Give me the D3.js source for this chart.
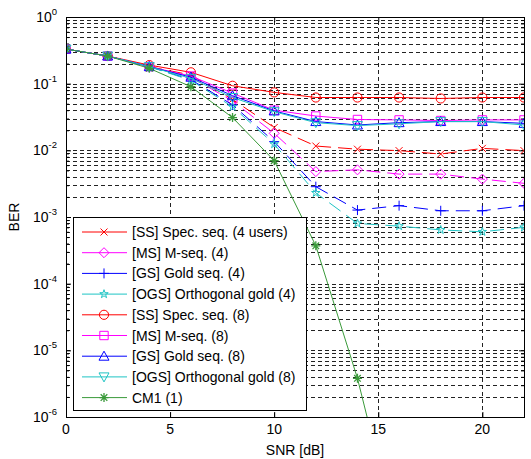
<!DOCTYPE html>
<html>
<head>
<meta charset="utf-8">
<script src="https://cdn.jsdelivr.net/npm/d3@7"></script>
<style>
  body { margin: 0; background: #fff; }
  text { font-family: "Liberation Sans", Arial, sans-serif; fill: #000; }
</style>
</head>
<body>
<div id="container"></div>
<script>
// DATA
const snr = [0, 2, 4, 6, 8, 10, 12, 14, 16, 18, 20, 22];
const snrCM1 = [0, 2, 4, 6, 8, 10, 12, 14, 16];

const berSS4 = [0.33, 0.26, 0.18, 0.135, 0.058, 0.022, 0.0116, 0.0104, 0.0099, 0.0088, 0.0107, 0.0099];
const berMS4 = [0.33, 0.26, 0.18, 0.125, 0.055, 0.018, 0.0048, 0.0051, 0.0044, 0.0044, 0.0037, 0.0032];
const berGS4 = [0.33, 0.26, 0.18, 0.115, 0.048, 0.0135, 0.00285, 0.00127, 0.00148, 0.00124, 0.00124, 0.00148];
const berOGS4 = [0.33, 0.26, 0.18, 0.112, 0.045, 0.0124, 0.0023, 0.0008, 0.00073, 0.00064, 0.0006, 0.0007];
const berSS8 = [0.33, 0.26, 0.19, 0.148, 0.093, 0.074, 0.062, 0.062, 0.062, 0.060, 0.062, 0.062];
const berMS8 = [0.33, 0.26, 0.18, 0.13, 0.072, 0.040, 0.0327, 0.029, 0.0286, 0.028, 0.0286, 0.0286];
const berGS8 = [0.33, 0.26, 0.18, 0.125, 0.066, 0.039, 0.027, 0.024, 0.026, 0.027, 0.027, 0.0254];
const berOGS8 = [0.33, 0.26, 0.18, 0.12, 0.062, 0.038, 0.026, 0.0235, 0.025, 0.027, 0.027, 0.024];
const berCM1 = [0.33, 0.26, 0.17, 0.09, 0.031, 0.007, 0.00037, 0.0000038, 0.000000012];

const legendLabels = [
  "[SS] Spec. seq. (4 users)", "[MS] M-seq. (4)", "[GS] Gold seq. (4)",
  "[OGS] Orthogonal gold (4)", "[SS] Spec. seq. (8)", "[MS] M-seq. (8)",
  "[GS] Gold seq. (8)", "[OGS] Orthogonal gold (8)", "CM1 (1)"
];
const xTicks = [0, 5, 10, 15, 20];
const yExponents = [0, -1, -2, -3, -4, -5, -6];

// series styles
const red = "#ff0000", magenta = "#ff00ff", blue = "#0000ff", cyan = "#1ec4c4", green = "#3a9a3a";
const series = [
  { x: snr, y: berSS4, color: red, marker: "x", dash: "14,7" },
  { x: snr, y: berMS4, color: magenta, marker: "diamond", dash: "14,7" },
  { x: snr, y: berGS4, color: blue, marker: "plus", dash: "14,7" },
  { x: snr, y: berOGS4, color: cyan, marker: "pentagram", dash: "14,7" },
  { x: snr, y: berSS8, color: red, marker: "circle", dash: null },
  { x: snr, y: berMS8, color: magenta, marker: "square", dash: null },
  { x: snr, y: berGS8, color: blue, marker: "triangle", dash: null },
  { x: snr, y: berOGS8, color: cyan, marker: "triangleDown", dash: null },
  { x: snrCM1, y: berCM1, color: green, marker: "star", dash: null }
];

// CONSTANTS
const width = 531, height = 459;
const margin = { top: 17, bottom: 42, left: 66, right: 7 };

const svg = d3.select("#container").append("svg")
  .attr("width", width).attr("height", height);

const xScale = d3.scaleLinear().domain([0, 22]).range([margin.left, width - margin.right]);
const yScale = d3.scaleLog().domain([1e-6, 1]).range([height - margin.bottom, margin.top]);

const x0 = xScale.range()[0], x1 = xScale.range()[1];
const y0 = yScale.range()[0], y1 = yScale.range()[1];

// GRID
const grid = svg.append("g").attr("stroke", "#222").attr("stroke-dasharray", "4,3").attr("stroke-width", 1);
grid.selectAll(".gy").data(yScale.ticks()).join("line")
  .attr("x1", x0).attr("x2", x1)
  .attr("y1", d => Math.round(yScale(d)) + 0.5).attr("y2", d => Math.round(yScale(d)) + 0.5);
grid.selectAll(".gx").data(xTicks.filter(d => d > 0)).join("line")
  .attr("y1", y0).attr("y2", y1)
  .attr("x1", d => Math.round(xScale(d)) + 0.5).attr("x2", d => Math.round(xScale(d)) + 0.5);

// AXES (ticks inward, MATLAB style)
const majorY = yExponents.map(e => Math.pow(10, e));
const minorY = yScale.ticks().filter(d => !majorY.some(m => Math.abs(m - d) < 1e-12));

function styleAxis(g) {
  g.select(".domain").remove();
  g.selectAll("line").attr("stroke", "#000");
}
svg.append("g").attr("transform", `translate(0,${y0})`)
  .call(d3.axisBottom(xScale).tickValues(xTicks).tickSize(-5).tickFormat("")).call(styleAxis);
svg.append("g").attr("transform", `translate(0,${y1})`)
  .call(d3.axisTop(xScale).tickValues(xTicks).tickSize(-5).tickFormat("")).call(styleAxis);
svg.append("g").attr("transform", `translate(${x0},0)`)
  .call(d3.axisLeft(yScale).tickValues(majorY).tickSize(-5).tickFormat("")).call(styleAxis);
svg.append("g").attr("transform", `translate(${x0},0)`)
  .call(d3.axisLeft(yScale).tickValues(minorY).tickSize(-3).tickFormat("")).call(styleAxis);
svg.append("g").attr("transform", `translate(${x1},0)`)
  .call(d3.axisRight(yScale).tickValues(majorY).tickSize(-5).tickFormat("")).call(styleAxis);
svg.append("g").attr("transform", `translate(${x1},0)`)
  .call(d3.axisRight(yScale).tickValues(minorY).tickSize(-3).tickFormat("")).call(styleAxis);

// tick labels
svg.append("g").selectAll("text").data(xTicks).join("text")
  .attr("x", d => xScale(d)).attr("y", y0 + 17)
  .attr("text-anchor", "middle").attr("font-size", 14)
  .text(d => d);

const yl = svg.append("g").selectAll("text").data(yExponents).join("text")
  .attr("x", x0 - 9).attr("y", d => yScale(Math.pow(10, d)) + 5)
  .attr("text-anchor", "end").attr("font-size", 14);
yl.append("tspan").text("10");
yl.append("tspan").attr("dy", -7).attr("font-size", 9.5).text(d => d === 0 ? "0" : "-" + Math.abs(d));

// axis titles
svg.append("text").attr("x", (x0 + x1) / 2).attr("y", y0 + 38)
  .attr("text-anchor", "middle").attr("font-size", 14).text("SNR [dB]");
svg.append("text").attr("transform", `translate(19,${(y0 + y1) / 2}) rotate(-90)`)
  .attr("text-anchor", "middle").attr("font-size", 14).text("BER");

// clip
svg.append("clipPath").attr("id", "plotClip").append("rect")
  .attr("x", x0).attr("y", y1).attr("width", x1 - x0).attr("height", y0 - y1);

// MARKERS
function markerPath(type) {
  switch (type) {
    case "x": { const s = 3.5; return `M${-s},${-s}L${s},${s}M${-s},${s}L${s},${-s}`; }
    case "plus": { const s = 5; return `M${-s},0H${s}M0,${-s}V${s}`; }
    case "star": { const s = 4.5, t = 3.3; return `M${-s},0H${s}M0,${-s}V${s}M${-t},${-t}L${t},${t}M${-t},${t}L${t},${-t}`; }
    case "diamond": { const s = 5; return `M0,${-s}L${s},0L0,${s}L${-s},0Z`; }
    case "square": { const s = 4.2; return `M${-s},${-s}H${s}V${s}H${-s}Z`; }
    case "triangle": { const s = 5; return `M0,${-s}L${s},${s * 0.8}L${-s},${s * 0.8}Z`; }
    case "triangleDown": { const s = 5; return `M0,${s}L${s},${-s * 0.8}L${-s},${-s * 0.8}Z`; }
    case "pentagram": return d3.symbol(d3.symbolStar).size(22)();
    case "circle": return d3.symbol(d3.symbolCircle).size(66)();
  }
}
function drawMarker(g, type, color) {
  g.append("path").attr("d", markerPath(type))
    .attr("fill", "none").attr("stroke", color).attr("stroke-width", type === "star" ? 1.3 : 1);
}

// LINES
const line = d3.line().x(d => xScale(d[0])).y(d => yScale(d[1]));
const plot = svg.append("g").attr("clip-path", "url(#plotClip)");
series.forEach(s => {
  const pts = s.x.map((v, i) => [v, s.y[i]]);
  plot.append("path").datum(pts)
    .attr("fill", "none").attr("stroke", s.color).attr("stroke-width", 1)
    .attr("stroke-dasharray", s.dash).attr("d", line);
  plot.selectAll(null).data(pts).join("g")
    .attr("transform", d => `translate(${xScale(d[0])},${yScale(d[1])})`)
    .each(function () { drawMarker(d3.select(this), s.marker, s.color); });
});

// box
svg.append("rect").attr("x", x0 + 0.5).attr("y", y1 + 0.5)
  .attr("width", x1 - x0).attr("height", y0 - y1)
  .attr("fill", "none").attr("stroke", "#000");

// LEGEND
const lg = svg.append("g").attr("transform", "translate(73,217)");
lg.append("rect").attr("x", 0.5).attr("y", 0.5).attr("width", 233).attr("height", 193)
  .attr("fill", "#fff").attr("stroke", "#000");
series.forEach((s, i) => {
  const yy = 15 + i * 20.7;
  const row = lg.append("g").attr("transform", `translate(0,${yy})`);
  row.append("line").attr("x1", 9).attr("x2", 54).attr("y1", 0).attr("y2", 0)
    .attr("stroke", s.color).attr("stroke-width", 1);
  drawMarker(row.append("g").attr("transform", "translate(31,0)"), s.marker, s.color);
  row.append("text").attr("x", 59).attr("y", 5).attr("font-size", 14).text(legendLabels[i]);
});
</script>
</body>
</html>
